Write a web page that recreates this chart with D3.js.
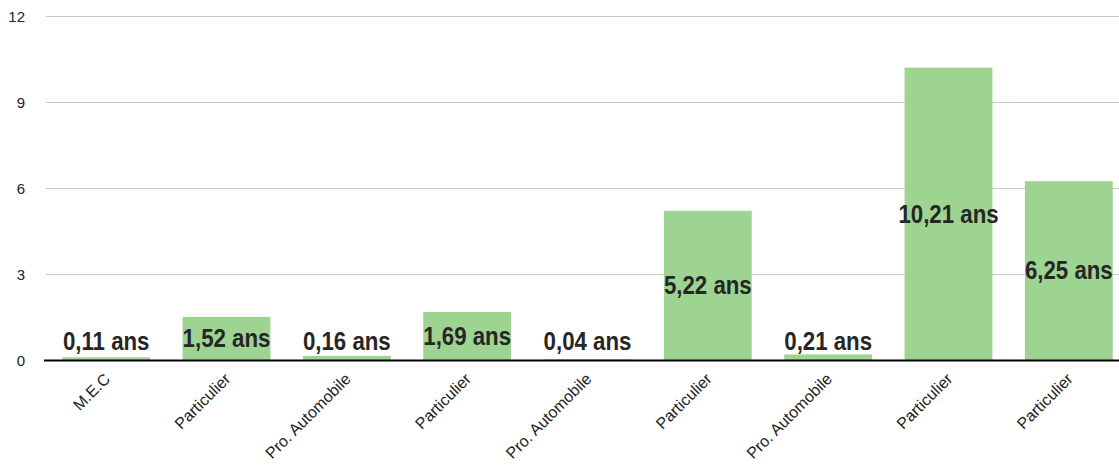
<!DOCTYPE html>
<html><head><meta charset="utf-8">
<script src="https://cdn.jsdelivr.net/npm/d3@7"></script>
<style>
html,body{margin:0;padding:0;background:#fff;}
svg{display:block;}
</style></head>
<body>
<svg id="chart" width="1119" height="467"></svg>
<script>
const categories = ["M.E.C","Particulier","Pro. Automobile","Particulier","Pro. Automobile","Particulier","Pro. Automobile","Particulier","Particulier"];
const values = [0.11,1.52,0.16,1.69,0.04,5.22,0.21,10.21,6.25];
const valueLabels = ["0,11 ans","1,52 ans","0,16 ans","1,69 ans","0,04 ans","5,22 ans","0,21 ans","10,21 ans","6,25 ans"];
const yTicks = [0,3,6,9,12];

const svg = d3.select("#chart");
const W = 1119, H = 467;
const x = d3.scaleBand().domain(d3.range(categories.length)).range([46,1129]).paddingInner(0.27).paddingOuter(0.135);
const y = d3.scaleLinear().domain([0,12]).range([360.5,16.3]);

// gridlines
svg.append("g").selectAll("line").data(yTicks.filter(t=>t>0)).join("line")
  .attr("x1",46).attr("x2",W).attr("y1",d=>Math.round(y(d))+0.5).attr("y2",d=>Math.round(y(d))+0.5)
  .attr("stroke","#c8c8c8").attr("stroke-width",1);

// y axis labels
const yAxis = d3.axisLeft(y).tickValues(yTicks).tickSize(0).tickPadding(0);
const gy = svg.append("g").attr("transform","translate(25,0)").call(yAxis);
gy.select(".domain").remove();
gy.selectAll("text").style("font-family","'Liberation Sans', Arial, sans-serif").style("font-size","15px").style("fill","#222");

// bars
svg.append("g").selectAll("rect").data(values).join("rect")
  .attr("x",(d,i)=>x(i)).attr("width",x.bandwidth())
  .attr("y",d=>y(d)).attr("height",d=>y(0)-y(d))
  .attr("fill","#9dd491");

// x axis line
svg.append("line").attr("x1",44).attr("x2",W).attr("y1",360.5).attr("y2",360.5).attr("stroke","#000").attr("stroke-width",2);

// x labels
const xAxis = d3.axisBottom(x).tickFormat(i=>categories[i]).tickSize(0).tickPadding(0);
const gx = svg.append("g").call(xAxis);
gx.select(".domain").remove();
gx.selectAll(".tick").attr("transform",i=>`translate(${x(i)+x.bandwidth()/2+1},376)`);
gx.selectAll("text").style("font-family","'Liberation Sans', Arial, sans-serif").style("font-size","16px").style("fill","#222")
  .attr("text-anchor","end").attr("dy","0.35em").attr("y",0).attr("transform","rotate(-45)");

// value labels
svg.append("g").selectAll("text").data(values).join("text")
  .attr("transform",(d,i)=>`translate(${x(i)+x.bandwidth()/2},${Math.min((y(d)+y(0))/2+8.5,350)}) scale(0.89,1)`)
  .attr("text-anchor","middle")
  .style("font-family","'Liberation Sans', Arial, sans-serif")
  .style("font-weight","bold").style("font-size","25px").style("fill","#262626")
  .text((d,i)=>valueLabels[i]);
</script>
</body></html>
